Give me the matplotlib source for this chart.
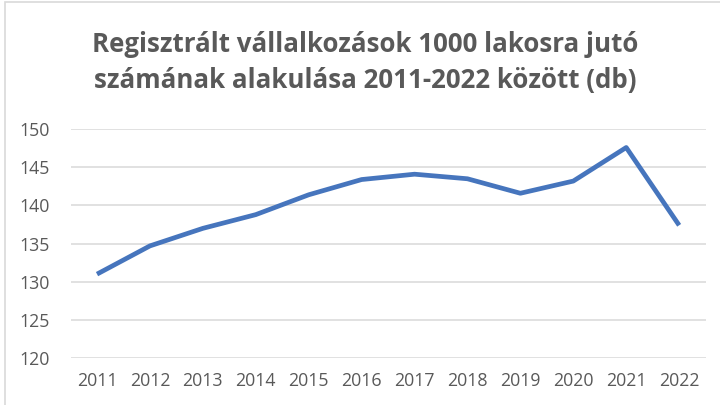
import matplotlib.pyplot as plt
from matplotlib.patches import Rectangle

years = ['2011', '2012', '2013', '2014', '2015', '2016',
         '2017', '2018', '2019', '2020', '2021', '2022']
values = [131.0, 134.7, 137.0, 138.8, 141.4, 143.4,
          144.1, 143.5, 141.6, 143.2, 147.6, 137.4]

plt.rcParams['font.family'] = ['Open Sans', 'DejaVu Sans']
gray = '#595959'

fig = plt.figure(figsize=(7.2, 4.05), dpi=100)
ax = fig.add_axes([0.098, 0.116, 0.882, 0.565])

x = list(range(len(years)))
ax.plot(x, values, color='#4675BD', linewidth=3.4, solid_capstyle='butt')

ax.set_xlim(-0.5, len(years) - 0.5)
ax.set_ylim(120, 150)
ax.set_yticks(range(120, 151, 5))
ax.set_xticks(x)
ax.set_xticklabels(years)
ax.grid(axis='y', color='#D9D9D9', linewidth=1.1)
ax.set_axisbelow(True)
for s in ax.spines.values():
    s.set_visible(False)
ax.tick_params(length=0, colors=gray, labelsize=12.8)
ax.tick_params(axis='y', pad=15)
ax.tick_params(axis='x', pad=10)

fig.text(0.507, 0.846, 'Regisztrált vállalkozások 1000 lakosra jutó\nszámának alakulása 2011-2022 között (db)',
         ha='center', va='center', fontsize=18.6, fontweight='bold', color=gray,
         linespacing=1.45)

# chart border
fig.patches.append(Rectangle((0.007, -0.01), 1.2, 1.005, transform=fig.transFigure,
                             fill=False, edgecolor='#D9D9D9', linewidth=1.2))

fig.savefig('out.png', dpi=100)
